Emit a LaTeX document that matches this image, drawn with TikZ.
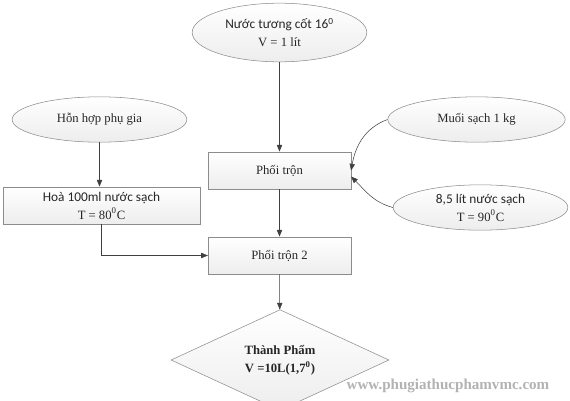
\documentclass[tikz,border=0pt]{standalone}
\usepackage{fontspec}
\setmainfont{Liberation Serif}
\newfontfamily\calfont{Carlito}
\usetikzlibrary{shapes.geometric,arrows.meta}
\newcommand{\calibri}[1]{{\calfont\fontsize{10}{13.5}\selectfont #1}}

\begin{document}
\begin{tikzpicture}[x=0.75pt,y=-0.75pt,
    font=\fontsize{9.5}{13.5}\selectfont,
    every node/.style={text=black!85, align=center, inner sep=0pt},
    source/.style={ellipse, draw=black!45, top color=white, bottom color=black!7, minimum width=131pt, minimum height=34pt},
    stepbox/.style={rectangle, draw=black!45, top color=white, bottom color=black!7, minimum width=107pt, minimum height=28pt},
    product/.style={diamond, draw=black!45, top color=white, bottom color=black!7, minimum width=163.5pt, minimum height=55.5pt},
    link/.style={draw=black!75, -{Triangle[length=5pt,width=4pt]}}]
    \useasboundingbox (0,0) rectangle (570,400);

    % Inputs
    \node[source, minimum height=44pt] (tuong) at (279.5,32.5) {\calibri{Nước tương cốt 16\textsuperscript{0}}\\V = 1 lít};
    \node[source] (phugia) at (99.5,119.5) {Hỗn hợp phụ gia};
    \node[source, minimum width=133pt] (muoi) at (476.5,119.5) {Muối sạch 1 kg};
    \node[source] (nuoc) at (480.5,207.5) {\calibri{8,5 lít nước sạch}\\T = 90\textsuperscript{0}C};

    % Steps
    \node[stepbox, minimum width=148pt] (hoa) at (101.5,205.5) {\calibri{Hoà 100ml nước sạch}\\T = 80\textsuperscript{0}C};
    \node[stepbox] (phoi) at (279.5,170.5) {Phối trộn};
    \node[stepbox] (phoi2) at (279.5,255.5) {Phối trộn 2};

    % Product
    \node[product] (tp) at (280,360) {\textbf{Thành Phẩm}\\\textbf{V =10L(1,7\textsuperscript{0})}};

    % Watermark
    \node[font=\bfseries\fontsize{11.3}{13}\selectfont, text=black!30] (web) at (448,386) {www.phugiathucphamvmc.com};

    % Connectors
    \draw[link] (tuong) -- (phoi);
    \draw[link] (phugia) -- (phugia |- hoa.north);
    \draw[link] (hoa.south) |- (phoi2.west);
    \draw[link] (muoi.west) to[out=200, in=80] (phoi.east);
    \draw[link] (nuoc.west) to[out=165, in=-45] ([yshift=-4.5pt]phoi.east);
    \draw[link] (phoi) -- (phoi2);
    \draw[link] (phoi2) -- (tp);

\end{tikzpicture}
\end{document}
